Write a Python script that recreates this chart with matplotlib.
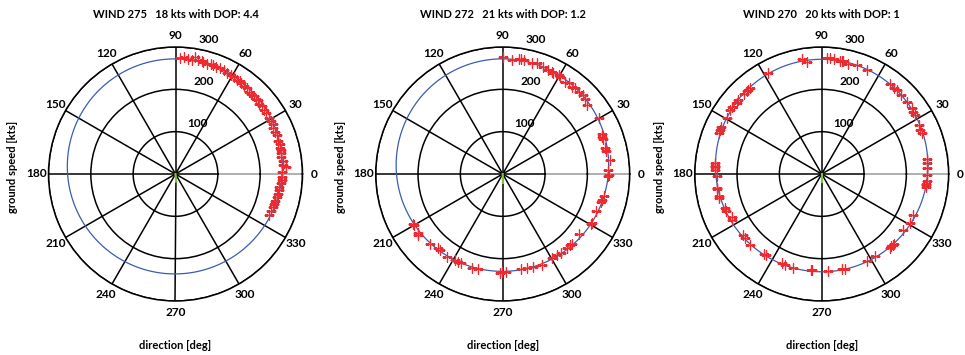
# -*- coding: utf-8 -*-
"""
Ground speed vs. track direction, three wind solutions side by side.
Red '+' = measured ground speed per direction, blue = fitted airspeed circle
shifted by the wind vector, green = wind vector itself.
"""

import numpy as np
import matplotlib
matplotlib.use("Agg")
import matplotlib.pyplot as plt

plt.rcParams["font.family"] = ["Lato", "DejaVu Sans"]
plt.rcParams["font.weight"] = "bold"

# wind solution per panel
wind_dirs = [275, 272, 270]
wind_speeds = [18, 21, 20]
dops = ["4.4", "1.2", "1"]
airspeeds = [254, 251, 251]

# measured samples: direction [deg], ground speed [kts]
p1_dir = [88, 86, 84, 82, 80.5, 79, 77, 76, 74, 72, 71, 69, 67, 65, 63, 61, 59,
          57, 55, 54, 52, 50, 48, 47, 45, 43, 42, 40, 38, 36, 34, 31, 29, 27,
          25, 23, 21, 18, 16, 14, 13, 11, 9, 7, 5, 3.8, 1, -1.5, -3, -5, -7,
          -9, -11, -13, -15, -17, -18.5, -21, -24]
p1_gs = [274, 276, 273, 272, 280, 274, 275, 273, 271, 274, 273, 270, 272, 271,
         269, 268, 268, 266, 267, 265, 263, 264, 261, 260, 262, 261, 262, 258,
         260, 259, 259, 258, 257, 259, 255, 256, 256, 254, 257, 255, 255, 254,
         253, 256, 256, 262, 252, 251, 253, 249, 247, 248, 246, 245, 244, 243,
         243, 242, 241]

p2_dir = [89.7, 85.5, 82, 81, 79.5, 75.3, 73, 69.5, 66.3, 64, 63.3, 60.5, 59.5,
          56, 54, 51.7, 50, 47, 44.4, 42.5, 39.4, 30.2, 22, 20.6, 19, 14, 12.4,
          7.4, 2, -0.5, -1, -12, -14.7, -16, -21.5, -28.7, -29.5, -38.3, -45,
          -46.5, -49, -53.7, -56, -59.8, -66.8, -72, -75.5, -79, -88, -90.2,
          -91.5, -104.3, -108, -115.2, -117, -119, -123.9, -129.5, -130.9,
          -136, -144, -145, -150, -151]
p2_gs = [276, 271, 274, 275, 273, 270, 274, 270, 268, 268, 266, 268, 267, 263,
         265, 263, 264, 265, 267, 263, 257, 262, 252, 250, 251, 250, 249, 256,
         250, 250, 248, 245, 242, 242, 236, 240, 241, 230, 233, 232, 232, 232,
         231, 230, 234, 231, 230, 229, 231, 231, 233, 232, 233, 233, 233, 232,
         237, 234, 232, 238, 246, 244, 241, 242]

p3_dir = [87.5, 86, 84, 81, 80, 79.5, 76.4, 72.2, 66.6, 53, 50, 48.2, 45, 40,
          36, 34.2, 32, 27, 24.1, 22, 8, 6, 3.1, 99.9, 97.6, 117.9, 130, 131,
          132, 134, 138.4, 140, 143.5, 145, 149.6, 155, 156.6, 158, 174, 175.5,
          176.4, 178, -179, -172.6, -172, -168, -167, -160.6, -159, -154.3,
          -153, -141.9, -140, -135.3, -125.8, -124.5, -114.1, -112, -106.7,
          -96.6, -95.5, -86, -78, -76, -62.6, -57, -47, -46, -45, -44, -34.4,
          -29.2, -24, -7, -6, -5.5, -4, -0.5]
p3_gs = [274, 275, 272, 271, 270, 272, 268, 271, 268, 267, 265, 266, 264, 263,
         264, 262, 261, 257, 255, 256, 252, 250, 249, 275, 268, 269, 265, 264,
         264, 263, 263, 262, 265, 263, 260, 262, 262, 261, 253, 254, 253, 252,
         248, 250, 249, 249, 250, 242, 243, 236, 237, 235, 236, 238, 232, 233,
         231, 232, 233, 229, 229, 230, 230, 231, 231, 231, 238, 237, 238, 237,
         234, 239, 237, 249, 247, 248, 250, 249]

samples = [(p1_dir, p1_gs), (p2_dir, p2_gs), (p3_dir, p3_gs)]

angle_labels = [str(a) for a in range(0, 360, 30)]
rho_ticks = [100, 200, 300]
R_MAX = 300

RED = "#ee2a30"
BLUE = "#3a5dae"
GREEN = "#7cc142"


def fitted_curve(tas, wspd, wdir):
    """Airspeed circle shifted by the wind vector, returned in polar form."""
    t = np.linspace(0, 2 * np.pi, 721)
    phi = np.deg2rad(wdir - 180)
    gx = tas * np.cos(t) + wspd * np.cos(phi)
    gy = tas * np.sin(t) + wspd * np.sin(phi)
    return np.unwrap(np.arctan2(gy, gx)), np.hypot(gx, gy)


def draw_panel(ax, k):
    ax.set_ylim(0, R_MAX)
    ax.set_yticks(rho_ticks)
    ax.set_yticklabels([])
    ax.set_xticks(np.deg2rad(np.arange(30, 360, 30)))
    ax.set_xticklabels([])
    ax.grid(True, color="black", lw=1.1)
    ax.spines["polar"].set_color("black")
    ax.spines["polar"].set_linewidth(1.1)
    # 0 deg spoke: inner part black, outer part lighter
    ax.plot([0, 0], [0, 100], color="black", lw=1.1, zorder=1)
    ax.plot([0, 0], [100, R_MAX], color="#9a9a9a", lw=1.1, zorder=1)

    # direction labels round the rim, radius labels along ~75 deg
    for lab in angle_labels:
        ax.text(np.deg2rad(int(lab)), 328, lab, ha="center", va="center",
                fontsize=8.6, clip_on=False)
    for val, ang, rr in zip(rho_ticks, [66.3, 73.2, 76.2], [129, 228, 328]):
        ax.text(np.deg2rad(ang), rr, str(val), ha="center", va="center",
                fontsize=8.6, clip_on=False)

    th, r = fitted_curve(airspeeds[k], wind_speeds[k], wind_dirs[k])
    ax.plot(th, r, color=BLUE, lw=0.9, zorder=3)

    d, gs = samples[k]
    ax.plot(np.deg2rad(d), gs, ls="none", marker="+", ms=6.5, mew=1.0,
            color=RED, zorder=4)

    wd = np.deg2rad(wind_dirs[k])
    ax.plot([wd, wd], [0, wind_speeds[k]], color=GREEN, lw=1.6, zorder=5)

    ax.text(0.5, 1.126,
            f"WIND {wind_dirs[k]}   {wind_speeds[k]} kts with DOP: {dops[k]}",
            transform=ax.transAxes, ha="center", va="center", fontsize=8)
    ax.text(-0.14, 0.528, "ground speed [kts]", transform=ax.transAxes,
            rotation=90, ha="center", va="center", fontsize=8)
    ax.text(0.5, -0.177, "direction [deg]", transform=ax.transAxes,
            ha="center", va="center", fontsize=8)


fig = plt.figure(figsize=(9.65, 3.55), dpi=100)
W, H = 965, 355
size = 254
for k, cx in enumerate([175.5, 502.7, 821.7]):
    ax = fig.add_axes([(cx - size / 2) / W, (H - 174 - size / 2) / H,
                       size / W, size / H], projection="polar")
    draw_panel(ax, k)

fig.savefig("out.png", dpi=100, facecolor="white")
